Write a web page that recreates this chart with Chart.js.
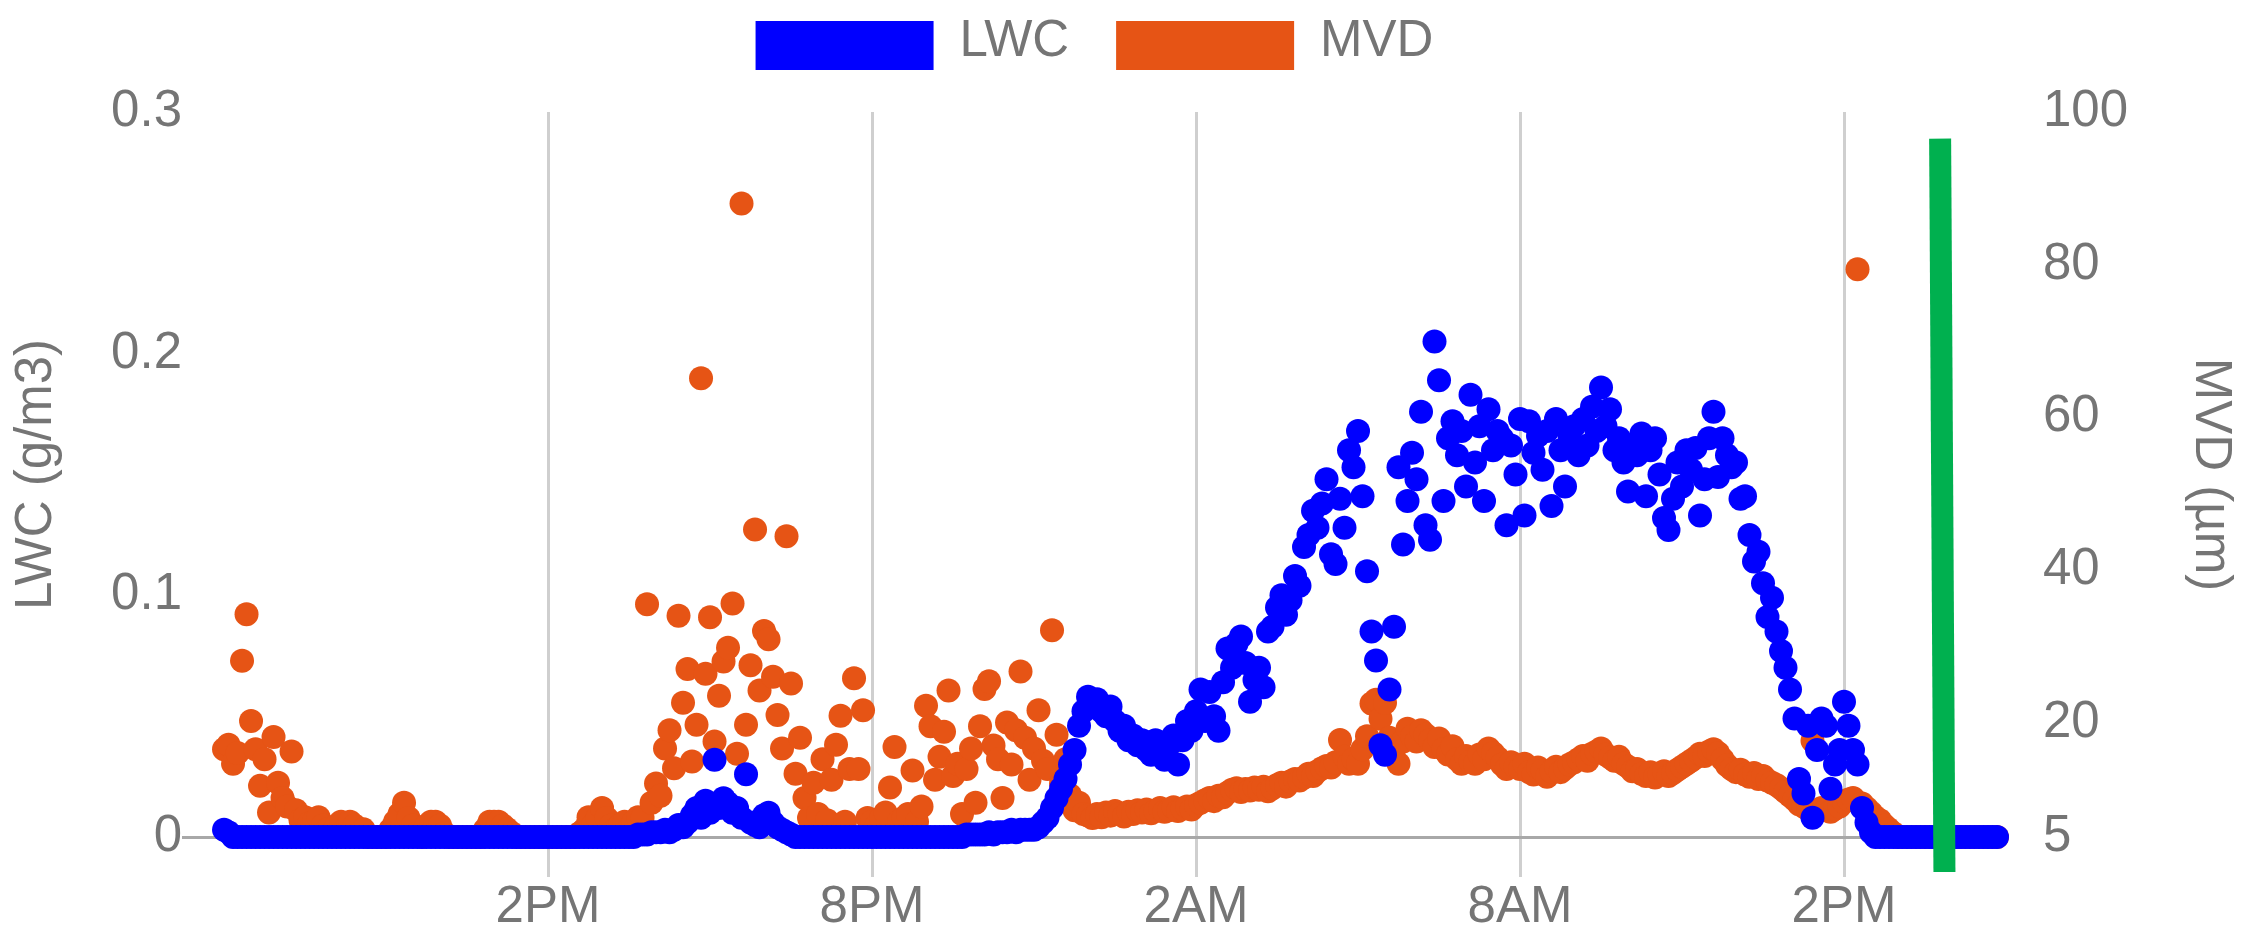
<!DOCTYPE html>
<html>
<head>
<meta charset="utf-8">
<title>LWC and MVD</title>
<script src="https://cdn.jsdelivr.net/npm/chart.js@4.4.1/dist/chart.umd.min.js"></script>
<style>
  html, body { margin: 0; padding: 0; background: #ffffff; }
  canvas { display: block; }
</style>
</head>
<body>
<canvas id="chart" width="2247" height="943"></canvas>
<script>
// Sensor log: one reading every 5 minutes, first reading at 8:00 on day one.
// Times are expressed in hours since midnight of day one (38 = 2PM on day two).
const startHour = 8;
const stepMinutes = 5;

// Liquid water content (g/m3), one row per hour starting 8AM
const lwc = [
  0.003,0.002,0,0,0,0,0,0,0,0,0,0,                                   // 8AM
  0,0,0,0,0,0,0,0,0,0,0,0,                                           // 9AM
  0,0,0,0,0,0,0,0,0,0,0,0,                                           // 10AM
  0,0,0,0,0,0,0,0,0,0,0,0,                                           // 11AM
  0,0,0,0,0,0,0,0,0,0,0,0,                                           // 12PM
  0,0,0,0,0,0,0,0,0,0,0,0,                                           // 1PM
  0,0,0,0,0,0,0,0,0,0,0,0,                                           // 2PM
  0,0,0,0,0,0,0,0,0.001,0.001,0.001,0.002,                           // 3PM
  0.002,0.002,0.003,0.002,0.003,0.005,0.004,0.006,0.009,0.012,0.008,0.015, // 4PM
  0.010,0.032,0.012,0.016,0.014,0.010,0.012,0.008,0.026,0.006,0.005,0.004, // 5PM
  0.009,0.010,0.006,0.004,0.003,0.002,0.001,0,0,0,0,0,               // 6PM
  0,0,0,0,0,0,0,0,0,0,0,0,                                           // 7PM
  0,0,0,0,0,0,0,0,0,0,0,0,                                           // 8PM
  0,0,0,0,0,0,0,0,0,0.001,0.001,0.001,                               // 9PM
  0.001,0.001,0.002,0.001,0.002,0.002,0.002,0.003,0.002,0.003,0.003,0.003, // 10PM
  0.003,0.004,0.006,0.008,0.012,0.016,0.020,0.024,0.030,0.036,0.046,0.052, // 11PM
  0.058,0.055,0.057,0.052,0.050,0.054,0.048,0.044,0.046,0.040,0.042,0.038, // 12AM
  0.040,0.036,0.034,0.040,0.036,0.032,0.038,0.042,0.030,0.040,0.048,0.044, // 1AM
  0.052,0.061,0.048,0.060,0.050,0.044,0.064,0.078,0.070,0.080,0.083,0.072, // 2AM
  0.056,0.065,0.070,0.062,0.085,0.087,0.095,0.100,0.092,0.098,0.108,0.104, // 3AM
  0.120,0.125,0.135,0.128,0.138,0.148,0.117,0.113,0.140,0.128,0.160,0.153, // 4AM
  0.168,0.141,0.110,0.085,0.073,0.038,0.034,0.061,0.087,0.153,0.121,0.139, // 5AM
  0.159,0.148,0.176,0.129,0.123,0.205,0.189,0.139,0.165,0.172,0.158,0.168, // 6AM
  0.145,0.183,0.155,0.170,0.139,0.177,0.160,0.168,0.165,0.129,0.162,0.150, // 7AM
  0.173,0.133,0.172,0.159,0.166,0.152,0.168,0.137,0.173,0.160,0.145,0.166, // 8AM
  0.170,0.158,0.173,0.162,0.178,0.168,0.186,0.170,0.177,0.160,0.165,0.155, // 9AM
  0.143,0.162,0.158,0.167,0.141,0.160,0.165,0.150,0.132,0.127,0.140,0.155, // 10AM
  0.145,0.160,0.152,0.161,0.133,0.148,0.165,0.176,0.149,0.165,0.158,0.153, // 11AM
  0.155,0.140,0.141,0.125,0.114,0.118,0.105,0.091,0.099,0.085,0.077,0.070, // 12PM
  0.061,0.049,0.024,0.018,0.046,0.008,0.036,0.049,0.046,0.020,0.030,0.036, // 1PM
  0.056,0.046,0.036,0.030,0.012,0.006,0.002,0,0,0,0,0,               // 2PM
  0,0,0,0,0,0,0,0,0,0,0,0,                                           // 3PM
  0,0,0,0,0,0,0,0,0,0,0                                              // 4PM
];

// Median volume diameter (µm), same timestamps
const mvd = [
  16.5,17.1,14.6,16.0,28.1,34.2,20.2,16.5,11.7,15.2,8.2,18.1,        // 8AM
  12.1,10.1,9.0,16.2,8.5,7.2,7.6,6.8,7.0,7.6,6.5,6.0,                // 9AM
  5.5,6.5,7.0,6.0,7.0,6.5,5.5,6.0,5,5,5,5,                           // 10AM
  5,6.0,7.0,8.0,9.5,7.5,6.5,5.5,5,6.5,7.0,7.0,                       // 11AM
  6.5,5.5,5,5,5,5,5,5,5,5,6.0,7.0,                                   // 12PM
  7.0,7.0,6.5,6.0,5.5,5,5,5,5,5,5,5,                                 // 1PM
  5,5,5,5,5,5,5,5.5,6.0,7.6,6.5,7.5,                                 // 2PM
  8.8,7.5,6.5,6.0,6.5,7.0,6.0,7.0,7.6,7.5,35.5,9.5,                  // 3PM
  12.0,10.4,16.6,19.0,14.0,34.0,22.6,27.0,14.9,19.7,65.1,26.4,       // 4PM
  33.8,17.5,23.5,28.0,29.8,35.6,15.9,88.0,19.7,27.5,45.3,24.2,       // 5PM
  32.0,30.9,26.0,21.0,16.6,44.4,25.1,13.3,18.0,10.1,7.5,12.1,        // 6PM
  8.0,15.2,7.2,12.5,17.1,20.9,7.0,13.9,25.8,13.9,21.6,7.5,           // 7PM
  7.0,6.5,7.5,8.2,11.5,16.8,7.0,7.5,8.0,13.7,7.0,9.0,                // 8PM
  22.2,19.5,12.5,15.5,18.8,24.2,13.0,14.6,8.0,13.9,16.6,9.5,         // 9PM
  19.5,24.4,25.4,17.0,15.2,10.1,20.0,14.5,19.0,26.7,18.0,12.5,       // 10PM
  16.6,21.6,15.0,13.9,32.1,18.4,12.0,15.2,10.5,8.5,9.5,8.0,          // 11PM
  7.8,7.5,8.0,7.6,8.2,7.8,8.4,8.0,7.7,8.3,8.0,8.5,                   // 12AM
  8.2,8.6,8.1,8.4,8.8,8.3,8.5,8.9,8.4,8.7,9.0,8.6,                   // 1AM
  9.2,9.5,9.8,10.1,9.7,10.4,10.2,10.8,11.2,11.4,10.9,11.3,           // 2AM
  11.1,11.5,11.2,11.6,11.0,11.4,11.8,12.1,11.6,12.3,12.6,12.4,       // 3AM
  12.8,13.3,13.0,13.6,14.0,14.3,14.1,14.8,17.7,15.5,14.6,15.2,       // 4AM
  14.6,16.5,18.2,22.5,23.0,20.5,22.6,18.0,16.4,14.6,17.5,19.2,       // 5AM
  18.2,17.5,19.0,18.4,17.7,16.8,17.9,16.5,15.8,16.9,15.2,14.6,       // 6AM
  15.6,14.9,14.6,15.8,15.2,16.6,16.0,15.4,14.5,13.9,14.8,14.2,       // 7AM
  13.9,14.6,13.5,13.2,14.1,13.7,12.9,13.6,14.2,13.5,14.0,14.5,       // 8AM
  14.8,15.2,15.6,15.0,15.9,16.2,16.6,15.8,15.4,15.0,15.5,14.6,       // 9AM
  14.2,13.6,13.9,13.3,13.0,13.5,12.8,13.2,13.6,13.0,13.4,13.8,       // 10AM
  14.2,14.6,15.0,15.4,15.9,15.6,16.2,16.5,16.0,15.2,14.4,13.9,       // 11AM
  13.5,13.8,13.2,12.9,13.4,12.6,13.0,12.4,12.1,11.8,11.4,10.9,       // 12PM
  10.4,9.9,9.3,9.0,8.6,17.6,8.4,8.8,8.5,8.3,8.7,9.0,                 // 1PM
  9.6,9.9,10.1,79.4,9.4,8.8,8.2,7.6,7.2,6.5,6.0,5.5,                 // 2PM
  5,5,5,5,5,5,5,5,5,5,5,5,                                           // 3PM
  5,5,5,5,5,5,5,5,5,5,5                                              // 4PM
];

// Axis definitions
const timeRange = [7.24, 41.0];
const timeTicks = [14, 20, 26, 32, 38];
const timeLabels = ['2PM', '8PM', '2AM', '8AM', '2PM'];
const lwcTicks = [0, 0.1, 0.2, 0.3];
const lwcLabels = ['0', '0.1', '0.2', '0.3'];
const mvdTicks = [5, 20, 40, 60, 80, 100];
const mvdLabels = ['5', '20', '40', '60', '80', '100'];

// Green cut-off marker (hours, LWC units at each end)
const markerTimes = [39.78, 39.86];
const markerLwc = [0.289, -0.0145];

const FONT = "'Liberation Sans', Arial, Helvetica, sans-serif";
const TEXT = '#757575';
const BLUE = '#0000ff';
const ORANGE = '#e65415';
const GREEN = '#00b04f';

Chart.defaults.font.family = FONT;
Chart.defaults.font.size = 51;
Chart.defaults.color = TEXT;

const toPoints = values => values.map((v, i) => ({ x: startHour + i * stepMinutes / 60, y: v }));

// Legend drawn as wide colour bars above the plot, centred over the chart area
const seriesKey = {
  id: 'seriesKey',
  afterDraw(chart, args, opts) {
    const { ctx, chartArea } = chart;
    const items = chart.data.datasets.filter(d => d.inKey);
    ctx.save();
    ctx.font = opts.fontSize + 'px ' + FONT;
    const widths = items.map(d => opts.boxWidth + opts.gap + ctx.measureText(d.label).width);
    const total = widths.reduce((a, b) => a + b, 0) + opts.spacing * (items.length - 1);
    let x = (chartArea.left + chartArea.right) / 2 - total / 2;
    items.forEach((d, i) => {
      ctx.fillStyle = d.backgroundColor;
      ctx.fillRect(x, opts.top, opts.boxWidth, opts.boxHeight);
      ctx.fillStyle = TEXT;
      ctx.textAlign = 'left';
      ctx.textBaseline = 'middle';
      ctx.fillText(d.label, x + opts.boxWidth + opts.gap, opts.top + opts.boxHeight / 2 - 4);
      x += widths[i] + opts.spacing;
    });
    ctx.restore();
  }
};

new Chart(document.getElementById('chart'), {
  type: 'scatter',
  data: {
    datasets: [
      {
        label: 'marker',
        type: 'line',
        data: markerTimes.map((t, i) => ({ x: t, y: markerLwc[i] })),
        borderColor: GREEN,
        borderWidth: 22,
        borderCapStyle: 'butt',
        pointRadius: 0,
        yAxisID: 'y',
        clip: false,
        order: 0
      },
      {
        label: 'LWC',
        inKey: true,
        data: toPoints(lwc),
        backgroundColor: BLUE,
        pointRadius: 12,
        pointBorderWidth: 0,
        yAxisID: 'y',
        clip: false,
        order: 1
      },
      {
        label: 'MVD',
        inKey: true,
        data: toPoints(mvd),
        backgroundColor: ORANGE,
        pointRadius: 12,
        pointBorderWidth: 0,
        yAxisID: 'y1',
        clip: false,
        order: 2
      }
    ]
  },
  options: {
    responsive: false,
    animation: false,
    events: [],
    layout: { padding: { top: 112, left: 0, right: 0, bottom: 0 } },
    plugins: {
      legend: { display: false },
      tooltip: { enabled: false },
      seriesKey: { top: 21, boxWidth: 178, boxHeight: 49, gap: 26, spacing: 47, fontSize: 51 }
    },
    scales: {
      x: {
        type: 'linear',
        position: 'bottom',
        min: timeRange[0],
        max: timeRange[1],
        afterBuildTicks: s => { s.ticks = timeTicks.map(v => ({ value: v })); },
        afterFit: s => { s.height = 106; },
        ticks: {
          autoSkip: false,
          maxRotation: 0,
          padding: 0,
          color: TEXT,
          callback: (v, i) => timeLabels[i]
        },
        grid: {
          color: '#cfcfcf',
          lineWidth: 3,
          drawTicks: true,
          tickLength: 40,
          tickColor: '#cfcfcf',
          tickWidth: 3
        },
        border: { display: true, color: '#a8a8a8', width: 3 }
      },
      y: {
        type: 'linear',
        position: 'left',
        min: 0,
        max: 0.3,
        afterBuildTicks: s => { s.ticks = lwcTicks.map(v => ({ value: v })); },
        afterFit: s => { s.width = 183; },
        ticks: { padding: 1, color: TEXT, callback: (v, i) => lwcLabels[i] },
        grid: { display: false, drawTicks: false },
        border: { display: false },
        title: { display: true, text: 'LWC (g/m3)', color: TEXT, padding: { top: 6, bottom: 0 } }
      },
      y1: {
        type: 'linear',
        position: 'right',
        min: 5,
        max: 100,
        afterBuildTicks: s => { s.ticks = mvdTicks.map(v => ({ value: v })); },
        afterFit: s => { s.width = 241; },
        ticks: { padding: 37, color: TEXT, callback: (v, i) => mvdLabels[i] },
        grid: { display: false, drawTicks: false, drawOnChartArea: false },
        border: { display: false },
        title: { display: true, text: 'MVD (µm)', color: TEXT, padding: { top: 6, bottom: 0 } }
      }
    }
  },
  plugins: [seriesKey]
});
</script>
</body>
</html>
